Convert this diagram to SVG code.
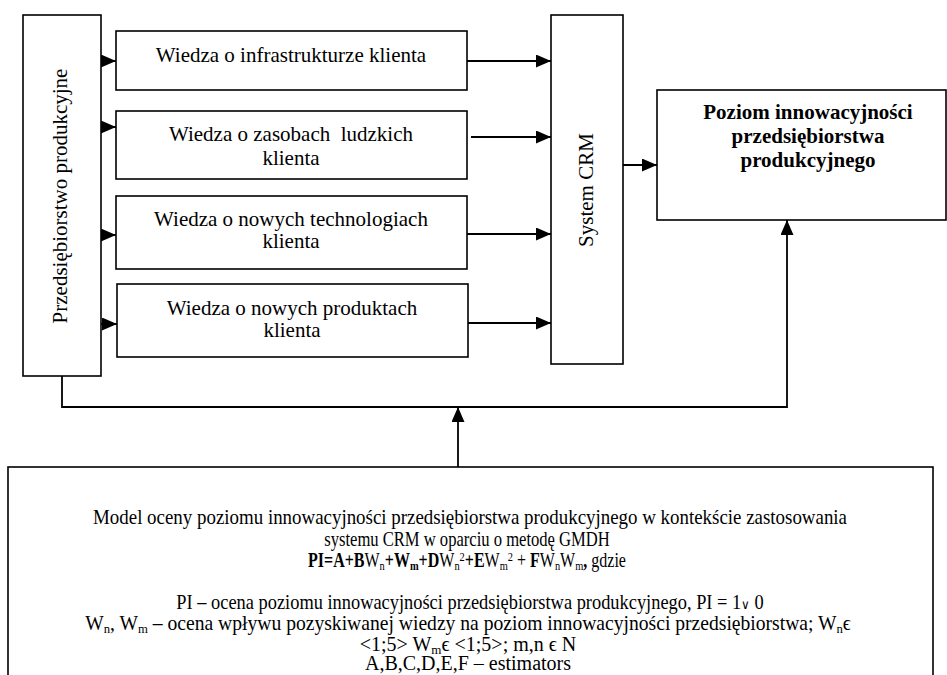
<svg xmlns="http://www.w3.org/2000/svg" width="947" height="675" viewBox="0 0 947 675">
<style>
.box{fill:#fff;stroke:#000;stroke-width:1.6}
.t{font-family:"Liberation Serif","Times New Roman",serif;font-size:21px;fill:#000;text-anchor:middle}
.b{font-weight:bold}
.s{font-family:"Liberation Serif","Times New Roman",serif;font-size:20px;fill:#000;text-anchor:middle}
.c{fill:none;stroke:#000;stroke-width:1.8}
.sub{font-size:13px}
</style>
<defs>
<marker id="ah" markerUnits="userSpaceOnUse" markerWidth="15" markerHeight="13" refX="15" refY="6.5" orient="auto">
<path d="M0,0 L15,6.5 L0,13 z" fill="#000"/>
</marker>
</defs>
<rect width="947" height="675" fill="#fff"/>

<g id="connectors">
<path class="c" d="M101,61 H116" marker-end="url(#ah)"/>
<path class="c" d="M101,127 H116" marker-end="url(#ah)"/>
<path class="c" d="M101,235 H116" marker-end="url(#ah)"/>
<path class="c" d="M101,324 H117" marker-end="url(#ah)"/>
<path class="c" d="M467,61 H551" marker-end="url(#ah)"/>
<path class="c" d="M471,137 H551" marker-end="url(#ah)"/>
<path class="c" d="M467,234 H551" marker-end="url(#ah)"/>
<path class="c" d="M468,323 H551" marker-end="url(#ah)"/>
<path class="c" d="M623,165 H657" marker-end="url(#ah)"/>
<path class="c" d="M62,376 V407 H787 V220" marker-end="url(#ah)"/>
<path class="c" d="M458,467 V407" marker-end="url(#ah)"/>
</g>

<g id="przedsiebiorstwo">
<rect class="box" x="23" y="15" width="78" height="361"/>
<text class="t" transform="translate(67,196) rotate(-90)">Przedsiębiorstwo produkcyjne</text>
</g>

<g id="wiedza-infrastruktura">
<rect class="box" x="116" y="31" width="351" height="59"/>
<text class="t" x="291" y="62">Wiedza o infrastrukturze klienta</text>
</g>

<g id="wiedza-zasoby">
<rect class="box" x="116" y="111" width="351" height="68"/>
<text class="t" x="291" y="141" xml:space="preserve">Wiedza o zasobach  ludzkich</text>
<text class="t" x="291" y="165">klienta</text>
</g>

<g id="wiedza-technologie">
<rect class="box" x="116" y="196" width="351" height="73"/>
<text class="t" x="291" y="226">Wiedza o nowych technologiach</text>
<text class="t" x="291" y="248">klienta</text>
</g>

<g id="wiedza-produkty">
<rect class="box" x="117" y="284" width="351" height="73"/>
<text class="t" x="292" y="315">Wiedza o nowych produktach</text>
<text class="t" x="292" y="337">klienta</text>
</g>

<g id="system-crm">
<rect class="box" x="551" y="15" width="72" height="349"/>
<text class="t" transform="translate(593,190) rotate(-90)">System CRM</text>
</g>

<g id="poziom-innowacyjnosci">
<rect class="box" x="657" y="90" width="289" height="130"/>
<text class="t b" x="808" y="119">Poziom innowacyjności</text>
<text class="t b" x="808" y="143">przedsiębiorstwa</text>
<text class="t b" x="808" y="167">produkcyjnego</text>
</g>

<g id="model-gmdh">
<rect class="box" x="8" y="467" width="925" height="230"/>
<text class="s" transform="translate(470,524) scale(0.946,1)">Model oceny poziomu innowacyjności przedsiębiorstwa produkcyjnego w kontekście zastosowania</text>
<text class="s" transform="translate(467,546) scale(0.83,1)">systemu CRM w oparciu o metodę GMDH</text>
<text class="s" transform="translate(467,567) scale(0.8,1)"><tspan font-weight="bold">PI=A+B</tspan>W<tspan class="sub" baseline-shift="-3">n</tspan><tspan font-weight="bold">+W<tspan class="sub" baseline-shift="-3">m</tspan>+D</tspan>W<tspan class="sub" baseline-shift="-3">n</tspan><tspan class="sub" baseline-shift="6">2</tspan><tspan font-weight="bold">+E</tspan>W<tspan class="sub" baseline-shift="-3">m</tspan><tspan class="sub" baseline-shift="6">2</tspan> + <tspan font-weight="bold">F</tspan>W<tspan class="sub" baseline-shift="-3">n</tspan>W<tspan class="sub" baseline-shift="-3">m</tspan><tspan font-weight="bold">,</tspan> gdzie</text>
<text class="s" transform="translate(470,609) scale(0.92,1)">PI – ocena poziomu innowacyjności przedsiębiorstwa produkcyjnego, PI = 1<tspan font-size="13px">∨</tspan> 0</text>
<text class="s" transform="translate(468,630) scale(0.98,1)">W<tspan class="sub" baseline-shift="-3">n</tspan>, W<tspan class="sub" baseline-shift="-3">m</tspan> – ocena wpływu pozyskiwanej wiedzy na poziom innowacyjności przedsiębiorstwa; W<tspan class="sub" baseline-shift="-3">n</tspan>ϵ</text>
<text class="s" x="468" y="651">&lt;1;5&gt; W<tspan class="sub" baseline-shift="-3">m</tspan>ϵ &lt;1;5&gt;; m,n ϵ N</text>
<text class="s" x="468" y="670">A,B,C,D,E,F – estimators</text>
</g>
</svg>
